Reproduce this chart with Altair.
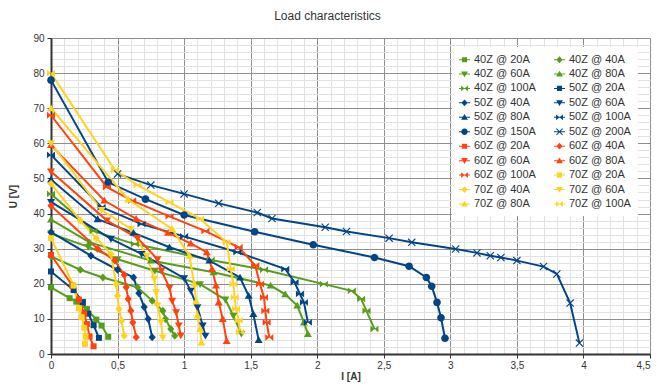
import altair as alt
import pandas as pd

series_names = [
    "40Z @ 20A", "40Z @ 40A", "40Z @ 60A", "40Z @ 80A", "40Z @ 100A",
    "50Z @ 20A", "50Z @ 40A", "50Z @ 60A", "50Z @ 80A", "50Z @ 100A",
    "50Z @ 150A", "50Z @ 200A",
    "60Z @ 20A", "60Z @ 40A", "60Z @ 60A", "60Z @ 80A", "60Z @ 100A",
    "70Z @ 20A", "70Z @ 40A", "70Z @ 60A", "70Z @ 80A", "70Z @ 100A",
]

# ---- data: I [A] and U [V] per series ----
i_40z_20a = [0, 0.14, 0.19, 0.27, 0.34, 0.38, 0.43]
u_40z_20a = [19, 15.9, 14.9, 12.8, 9.8, 8.1, 4.9]
i_40z_40a = [0, 0.22, 0.39, 0.65, 0.76, 0.84, 0.86, 0.90, 0.93]
u_40z_40a = [27.8, 24, 21.8, 19, 15.2, 12.3, 10, 7.1, 5.2]
i_40z_60a = [0, 0.28, 0.50, 0.78, 1.12, 1.31, 1.37, 1.43]
u_40z_60a = [34.3, 30.5, 27, 23.7, 19.9, 15.5, 10.9, 5.8]
i_40z_80a = [0, 0.29, 0.75, 1.22, 1.65, 1.76, 1.85, 1.90, 1.93]
u_40z_80a = [38.3, 31.8, 26.6, 23.3, 19.5, 17, 13.8, 9, 5.7]
i_40z_100a = [0, 0.32, 0.63, 1.20, 1.60, 2.05, 2.26, 2.33, 2.37, 2.43]
u_40z_100a = [45.6, 35, 31.3, 26.8, 24, 19.9, 18, 15.7, 12.3, 7.1]

i_50z_20a = [0, 0.17, 0.24, 0.28, 0.32, 0.36]
u_50z_20a = [23.5, 18.2, 14.8, 11.5, 8.2, 4.6]
i_50z_40a = [0, 0.30, 0.50, 0.62, 0.66, 0.70, 0.73, 0.76]
u_50z_40a = [34.7, 28, 24, 21.8, 17.3, 13.4, 10, 4.8]
i_50z_60a = [0, 0.45, 0.68, 1.00, 1.05, 1.10, 1.14, 1.16]
u_50z_60a = [43.3, 32.8, 28.5, 21.6, 18.0, 13.3, 8.1, 5.2]
i_50z_80a = [0, 0.35, 0.62, 0.89, 1.19, 1.42, 1.485, 1.52, 1.56]
u_50z_80a = [49.7, 38.4, 34.5, 30.4, 26.6, 21.8, 16.6, 11.4, 4.0]
i_50z_100a = [0, 0.38, 0.68, 1.0, 1.40, 1.76, 1.83, 1.87, 1.90, 1.93]
u_50z_100a = [56.7, 41.8, 37.0, 33.5, 29.0, 24.2, 20.4, 17.1, 14.7, 9.0]
i_50z_150a = [0, 0.43, 0.71, 1.0, 1.53, 1.97, 2.43, 2.69, 2.82, 2.86, 2.90, 2.93, 2.96]
u_50z_150a = [78, 48.9, 44.1, 39.6, 34.8, 31.1, 27.5, 25.0, 21.8, 19.3, 14.7, 10.3, 4.5]
i_50z_200a = [0.50, 0.75, 1.00, 1.26, 1.55, 1.66, 2.06, 2.22, 2.54, 2.71, 3.04, 3.20,
              3.30, 3.38, 3.50, 3.70, 3.80, 3.90, 3.97]
u_50z_200a = [51.3, 48.1, 45.6, 42.9, 40.3, 38.6, 36.1, 34.9, 33.0, 31.8, 29.9, 28.8,
              28.0, 27.5, 26.6, 24.9, 22.8, 14.5, 3.1]

i_60z_20a = [0, 0.16, 0.21, 0.25, 0.27, 0.29, 0.32]
u_60z_20a = [28.2, 19.5, 15.5, 11.5, 8.5, 5.0, 2.2]
i_60z_40a = [0, 0.35, 0.48, 0.55, 0.565, 0.58, 0.60, 0.615, 0.64]
u_60z_40a = [42.2, 30, 26.6, 22.5, 19, 15.7, 12.3, 9, 4.8]
i_60z_60a = [0, 0.42, 0.65, 0.80, 0.83, 0.89, 0.91, 0.94, 0.96, 0.975]
u_60z_60a = [52, 38, 33, 27, 23.7, 18.9, 15.2, 11.9, 8.1, 5.3]
i_60z_80a = [0, 0.40, 0.64, 0.88, 1.05, 1.17, 1.21, 1.24, 1.26, 1.29, 1.32]
u_60z_80a = [59.5, 43.7, 38.5, 34.5, 31.5, 29, 24.2, 19.5, 14.7, 10, 3.7]
i_60z_100a = [0, 0.42, 0.61, 0.89, 1.16, 1.41, 1.535, 1.57, 1.60, 1.61, 1.62, 1.64]
u_60z_100a = [68, 47.5, 43.7, 39.2, 35, 30.4, 25.2, 19.9, 16.1, 12.3, 9, 4.7]

i_70z_20a = [0, 0.17, 0.21, 0.23, 0.25, 0.26, 0.255]
u_70z_20a = [33, 19.5, 13, 10.5, 7.5, 5, 2.8]
i_70z_40a = [0, 0.22, 0.34, 0.45, 0.49, 0.50, 0.51, 0.53, 0.55]
u_70z_40a = [48.5, 38, 33, 28.5, 19.9, 16.6, 12.8, 9.5, 5.2]
i_70z_60a = [0, 0.38, 0.60, 0.72, 0.776, 0.79, 0.80, 0.826, 0.84]
u_70z_60a = [60, 41, 35.6, 28, 21.4, 17.6, 13.8, 9.1, 4.7]
i_70z_80a = [0, 0.58, 0.91, 1.04, 1.075, 1.09, 1.10, 1.12, 1.13]
u_70z_80a = [70, 44, 35.6, 28, 20, 15, 11, 7.1, 3.3]
i_70z_100a = [0, 0.48, 0.65, 0.89, 1.12, 1.32, 1.35, 1.37, 1.38, 1.39, 1.41, 1.42]
u_70z_100a = [80, 52.4, 48.1, 43.2, 38.5, 31.8, 24.2, 19.9, 16.1, 12.8, 9.5, 6.2]

x_ticks = [0, 0.5, 1, 1.5, 2, 2.5, 3, 3.5, 4, 4.5]
y_ticks = [0, 10, 20, 30, 40, 50, 60, 70, 80, 90]

series_i = [i_40z_20a, i_40z_40a, i_40z_60a, i_40z_80a, i_40z_100a,
            i_50z_20a, i_50z_40a, i_50z_60a, i_50z_80a, i_50z_100a, i_50z_150a, i_50z_200a,
            i_60z_20a, i_60z_40a, i_60z_60a, i_60z_80a, i_60z_100a,
            i_70z_20a, i_70z_40a, i_70z_60a, i_70z_80a, i_70z_100a]
series_u = [u_40z_20a, u_40z_40a, u_40z_60a, u_40z_80a, u_40z_100a,
            u_50z_20a, u_50z_40a, u_50z_60a, u_50z_80a, u_50z_100a, u_50z_150a, u_50z_200a,
            u_60z_20a, u_60z_40a, u_60z_60a, u_60z_80a, u_60z_100a,
            u_70z_20a, u_70z_40a, u_70z_60a, u_70z_80a, u_70z_100a]

rows = []
for name, xs_, ys_ in zip(series_names, series_i, series_u):
    for k, (a, b) in enumerate(zip(xs_, ys_)):
        rows.append({"series": name, "idx": k, "I": a, "U": b})
df = pd.DataFrame(rows)

# ---- styles ----
GREEN, BLUE, RED, YELLOW = "#579d1c", "#004586", "#ff420e", "#ffd320"
colors = [GREEN] * 5 + [BLUE] * 7 + [RED] * 5 + [YELLOW] * 5


def ring(pts, k=1.0):
    area = 0.0
    for a in range(len(pts)):
        x1, y1 = pts[a]
        x2, y2 = pts[(a + 1) % len(pts)]
        area += x1 * y2 - x2 * y1
    if area < 0:
        pts = list(reversed(pts))
    return "M" + "L".join(f"{x * k:.3f},{y * k:.3f}" for x, y in pts) + "Z"


def circle(r):
    return f"M{r:.3f},0A{r:.3f},{r:.3f},0,1,1,{-r:.3f},0A{r:.3f},{r:.3f},0,1,1,{r:.3f},0Z"


POLYS = {
    "square": [[(-0.75, -0.75), (0.75, -0.75), (0.75, 0.75), (-0.75, 0.75)]],
    "diamond": [[(0, -1), (0.9, 0), (0, 1), (-0.9, 0)]],
    "down": [[(-1, -0.75), (1, -0.75), (0, 0.95)]],
    "up": [[(-1, 0.75), (1, 0.75), (0, -0.95)]],
    "bowtie": [[(-1, -0.85), (0, 0), (-1, 0.85)], [(1, -0.85), (0, 0), (1, 0.85)]],
    "x": [[(-1, -0.8), (-0.8, -1), (1, 0.8), (0.8, 1)],
          [(0.8, -1), (1, -0.8), (-0.8, 1), (-1, 0.8)]],
}


def marker(kind, k=1.0):
    if kind == "circle":
        return circle(0.95 * k)
    return "".join(ring(p, k) for p in POLYS[kind])


BAR = ring([(-1, -0.09), (1, -0.09), (1, 0.09), (-1, 0.09)])

kinds = (["square", "diamond", "down", "up", "bowtie"]
         + ["square", "diamond", "down", "up", "bowtie", "circle", "x"]
         + ["square", "diamond", "down", "up", "bowtie"]
         + ["square", "diamond", "down", "up", "bowtie"])
mark_paths = [marker(k) for k in kinds]
legend_paths = [BAR + marker(k, 0.62) for k in kinds]

FONT = "Liberation Sans"
PW, PH = 599, 316
xs = alt.Scale(domain=[0, 4.5], nice=False, zero=False)
ys = alt.Scale(domain=[0, 90], nice=False, zero=False)
color_scale = alt.Scale(domain=series_names, range=colors)

label_expr = "replace(format(datum.value, '~g'), '.', ',')"

x_major = alt.Axis(orient="bottom", values=x_ticks, grid=True, gridColor="#8f8f8f",
                   gridWidth=1, domainColor="#333333", domainWidth=2,
                   tickColor="#333333", tickSize=4, labelFlush=False,
                   labelAlign={"expr": "datum.value >= 4.5 ? 'right' : 'center'"},
                   labelExpr=label_expr, labelFont=FONT, labelFontSize=10,
                   labelColor="#333333", labelPadding=2, title="I [A]",
                   titleFont=FONT, titleFontSize=10, titleFontWeight="bold",
                   titleColor="#333333", titleX=PW / 2, titleY=22, titleBaseline="middle")
y_major = alt.Axis(orient="left", values=y_ticks, grid=True, gridColor="#8f8f8f",
                   gridWidth=1, domainColor="#333333", domainWidth=2,
                   tickColor="#333333", tickSize=4, labelFlush=False,
                   labelFont=FONT, labelFontSize=10, labelColor="#333333", labelPadding=3,
                   title="U [V]", titleFont=FONT, titleFontSize=10, titleFontWeight="bold",
                   titleColor="#333333", titleX=-38, titleY=PH / 2, titleBaseline="middle")

x_minor_vals = [round(v * 0.1, 1) for v in range(46) if v % 5 != 0]
y_minor_vals = [v for v in range(0, 91, 2) if v % 10 != 0]
x_minor = alt.Axis(values=x_minor_vals, grid=True, gridColor="#e2e2e2", gridWidth=1,
                   domain=False, ticks=False, labels=False, title=None, orient="top")
y_minor = alt.Axis(values=y_minor_vals, grid=True, gridColor="#e2e2e2", gridWidth=1,
                   domain=False, ticks=False, labels=False, title=None, orient="right")

base = alt.Chart(df)

minor = base.transform_filter("datum.I < -1").mark_point(opacity=0).encode(
    x=alt.X("I:Q", scale=xs, axis=x_minor),
    y=alt.Y("U:Q", scale=ys, axis=y_minor),
)

lines = base.mark_line(strokeWidth=2).encode(
    x=alt.X("I:Q", scale=xs, axis=x_major),
    y=alt.Y("U:Q", scale=ys, axis=y_major),
    color=alt.Color("series:N", scale=color_scale, legend=None),
    detail="series:N",
    order="idx:Q",
)

points = base.mark_point(filled=True, size=64, opacity=1).encode(
    x=alt.X("I:Q", scale=xs, axis=None),
    y=alt.Y("U:Q", scale=ys, axis=None),
    color=alt.Color("series:N", scale=color_scale, legend=None),
    shape=alt.Shape("series:N", scale=alt.Scale(domain=series_names, range=mark_paths),
                    legend=None),
)

leg = alt.Legend(title=None, orient="none", legendX=401, legendY=9, columns=2,
                 direction="horizontal", padding=7, rowPadding=2.45, columnPadding=18,
                 labelOffset=4, symbolSize=121, symbolStrokeWidth=0,
                 labelFont=FONT, labelFontSize=11, labelColor="#333333", labelLimit=200,
                 fillColor="white")

legend_layer = base.transform_filter("datum.I < -1").mark_point(
    filled=True, size=121, opacity=1).encode(
    x=alt.X("I:Q", scale=xs, axis=None),
    y=alt.Y("U:Q", scale=ys, axis=None),
    color=alt.Color("series:N", scale=color_scale, legend=leg),
    shape=alt.Shape("series:N", scale=alt.Scale(domain=series_names, range=legend_paths),
                    legend=leg),
)

chart = alt.layer(minor, lines, points, legend_layer).resolve_scale(
    color="independent", shape="independent"
).resolve_axis(x="independent", y="independent").properties(
    width=PW, height=PH,
    title=alt.TitleParams("Load characteristics", font=FONT, fontSize=12,
                          fontWeight="normal", color="#333333", offset=10, dx=-23),
    autosize=alt.AutoSizeParams(type="none"),
    padding={"left": 43, "top": 30, "right": 1, "bottom": 29},
).configure_view(stroke=None)

chart.save("out.html", embed_options={"renderer": "svg", "actions": False})
